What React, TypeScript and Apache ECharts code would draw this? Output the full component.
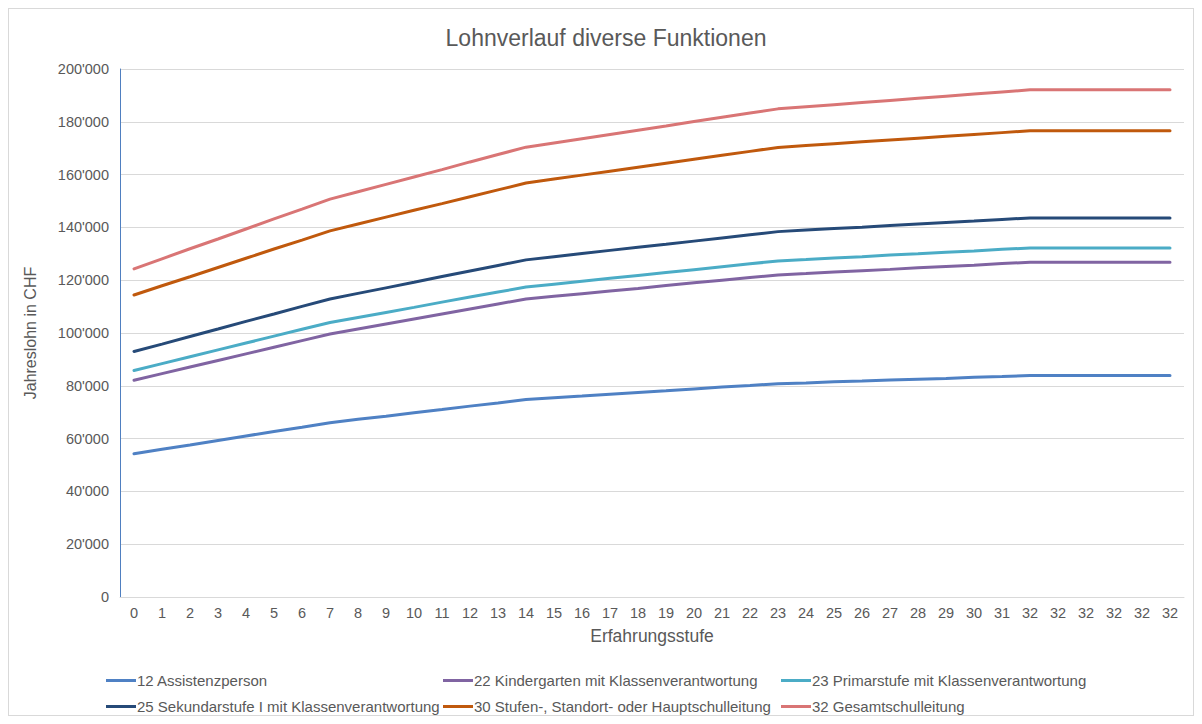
import React, { useEffect, useRef } from "react";
import * as echarts from "echarts";

const categories = [
  "0","1","2","3","4","5","6","7","8","9","10","11","12","13","14","15","16","17","18","19",
  "20","21","22","23","24","25","26","27","28","29","30","31","32","32","32","32","32","32",
];

const seriesNames = [
  "12 Assistenzperson",
  "22 Kindergarten mit Klassenverantwortung",
  "23 Primarstufe mit Klassenverantwortung",
  "25 Sekundarstufe I mit Klassenverantwortung",
  "30 Stufen-, Standort- oder Hauptschulleitung",
  "32 Gesamtschulleitung",
];

const assistenz = [
  54300, 56000, 57600, 59300, 61000, 62700, 64300, 66000, 67300, 68500, 69800, 71000, 72300, 73500,
  74800, 75500, 76100, 76800, 77500, 78100, 78800, 79500, 80100, 80800, 81100, 81500, 81800, 82200,
  82500, 82800, 83200, 83500, 83900, 83900, 83900, 83900, 83900, 83900,
];
const kindergarten = [
  82100, 84600, 87100, 89600, 92100, 94600, 97100, 99600, 101500, 103400, 105300, 107200, 109100, 111000,
  112900, 113900, 114900, 115900, 116900, 118000, 119000, 120000, 121000, 122000, 122500, 123100, 123600,
  124100, 124700, 125200, 125700, 126300, 126800, 126800, 126800, 126800, 126800, 126800,
];
const primar = [
  85800, 88400, 91000, 93600, 96200, 98800, 101400, 104000, 105900, 107800, 109700, 111700, 113600, 115500,
  117400, 118500, 119600, 120700, 121800, 122900, 124000, 125100, 126200, 127300, 127800, 128400, 128900,
  129500, 130000, 130600, 131100, 131700, 132200, 132200, 132200, 132200, 132200, 132200,
];
const sekundar = [
  93000, 95800, 98700, 101500, 104400, 107200, 110100, 112900, 115000, 117100, 119200, 121400, 123500, 125600,
  127700, 128900, 130100, 131300, 132500, 133600, 134800, 136000, 137200, 138400, 139000, 139600, 140100,
  140700, 141300, 141900, 142400, 143000, 143600, 143600, 143600, 143600, 143600, 143600,
];
const stufenleitung = [
  114400, 117900, 121300, 124800, 128300, 131800, 135200, 138700, 141300, 143900, 146500, 149000, 151600,
  154200, 156800, 158300, 159800, 161300, 162800, 164300, 165800, 167300, 168800, 170300, 171000, 171700,
  172400, 173100, 173800, 174500, 175200, 175900, 176600, 176600, 176600, 176600, 176600, 176600,
];
const gesamtleitung = [
  124300, 128100, 131900, 135600, 139400, 143200, 146900, 150700, 153500, 156300, 159100, 161900, 164800,
  167600, 170400, 172000, 173600, 175200, 176800, 178400, 180100, 181700, 183300, 184900, 185700, 186500,
  187300, 188100, 188900, 189700, 190500, 191300, 192100, 192100, 192100, 192100, 192100, 192100,
];

const seriesData = [assistenz, kindergarten, primar, sekundar, stufenleitung, gesamtleitung];
const colors = ["#4f81c4", "#8064a2", "#4bacc6", "#264a78", "#c0590d", "#d97575"];

const FONT = "Liberation Sans, Arial, sans-serif";
const TXT = "#595959";

const fmt = (v: number) => String(v).replace(/\B(?=(\d{3})+(?!\d))/g, "'");

export default function App() {
  const ref = useRef<HTMLDivElement>(null);
  useEffect(() => {
    if (!ref.current) return;
    const chart = echarts.init(ref.current, undefined, { renderer: "svg" });
    const legendPos = [
      { left: 97, top: 664 },
      { left: 434, top: 664 },
      { left: 772, top: 664 },
      { left: 97, top: 690 },
      { left: 434, top: 690 },
      { left: 772, top: 690 },
    ];
    chart.setOption({
      animation: false,
      textStyle: { fontFamily: FONT },
      title: {
        text: "Lohnverlauf diverse Funktionen",
        left: 592,
        textAlign: "center",
        top: 12,
        textStyle: { fontFamily: FONT, fontSize: 23, fontWeight: "normal", color: TXT },
      },
      legend: seriesNames.map((n, i) => ({
        data: [n],
        left: legendPos[i].left,
        top: legendPos[i].top,
        icon: "rect",
        itemWidth: 30,
        itemHeight: 3,
        itemGap: 2,
        padding: 0,
        selectedMode: false,
        textStyle: { fontFamily: FONT, fontSize: 15, color: TXT, padding: [0, 0, 0, -4] },
      })),
      grid: { left: 111, right: 9, top: 60, bottom: 118, containLabel: false },
      xAxis: {
        type: "category",
        data: categories,
        boundaryGap: true,
        name: "Erfahrungsstufe",
        nameLocation: "middle",
        nameGap: 30,
        nameTextStyle: { fontFamily: FONT, fontSize: 17.5, color: TXT },
        axisLine: { lineStyle: { color: "#d9d9d9", width: 1 } },
        axisTick: { show: false },
        axisLabel: { interval: 0, fontFamily: FONT, fontSize: 14.5, color: TXT, margin: 8 },
        splitLine: { show: false },
      },
      yAxis: {
        type: "value",
        min: 0,
        max: 200000,
        interval: 20000,
        name: "Jahreslohn in CHF",
        nameLocation: "middle",
        nameGap: 82,
        nameTextStyle: { fontFamily: FONT, fontSize: 16, color: TXT },
        axisLine: { show: true, lineStyle: { color: "#4f7fc0", width: 1 } },
        axisTick: { show: false },
        axisLabel: { formatter: fmt, fontFamily: FONT, fontSize: 14.5, color: TXT, margin: 11 },
        splitLine: { lineStyle: { color: "#d9d9d9", width: 1 } },
      },
      series: seriesNames.map((n, i) => ({
        name: n,
        type: "line",
        data: seriesData[i],
        symbol: "none",
        smooth: false,
        lineStyle: { color: colors[i], width: 3, cap: "round" },
        itemStyle: { color: colors[i] },
        emphasis: { disabled: true },
      })),
    });
    return () => chart.dispose();
  }, []);
  return (
    <div
      ref={ref}
      style={{
        width: 1184,
        height: 706,
        border: "1px solid #d9d9d9",
        background: "#fff",
      }}
    />
  );
}
